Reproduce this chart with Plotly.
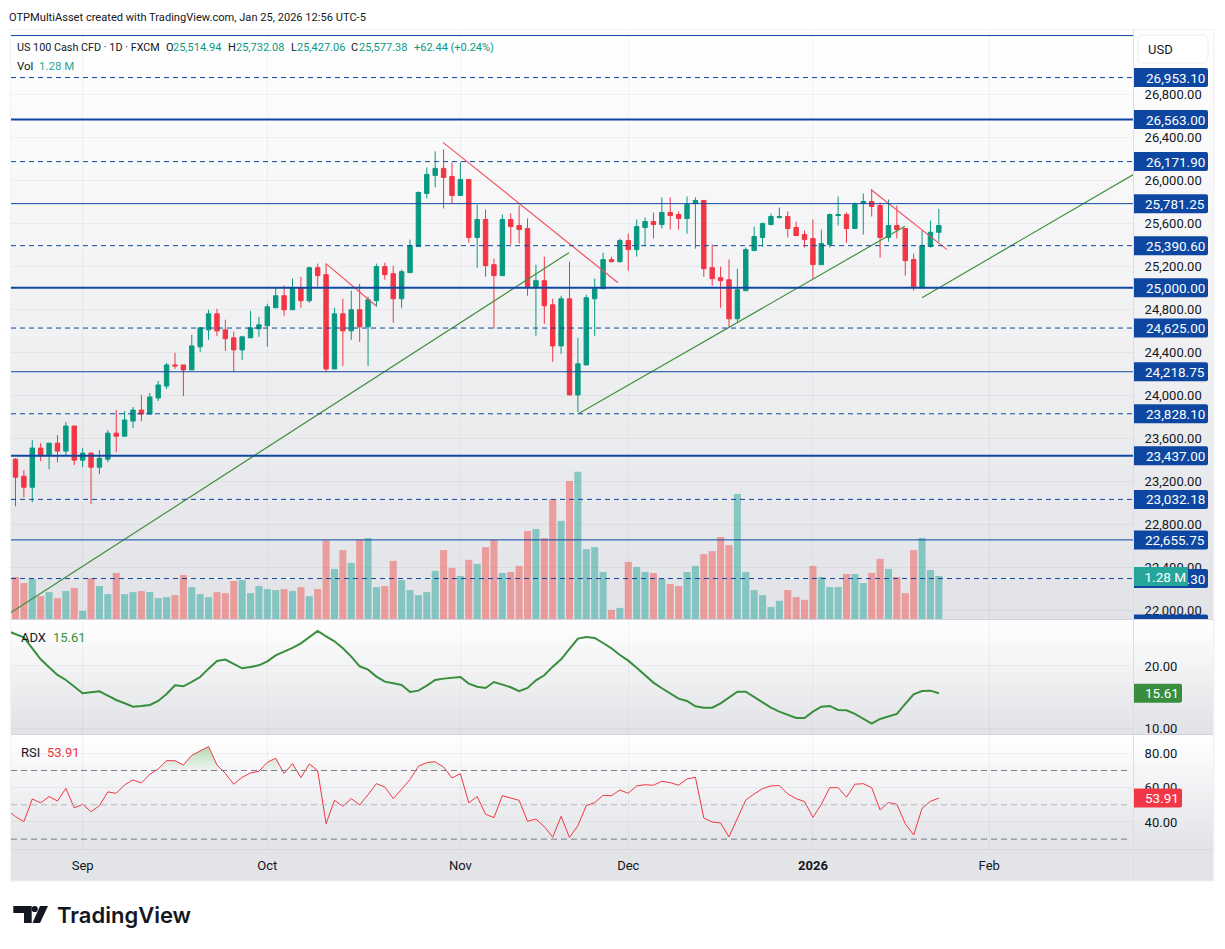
import plotly.graph_objects as go

W, H = 1225, 949

# Daily sessions of US 100 Cash CFD, late August 2025 to 23 January 2026
opens = [23406,23248,23145,23509,23443,23555,23481,23714,23397,23462,23331,23406,23648,23620,23760,23863,23825,23975,24086,24282,
         24282,24236,24450,24608,24757,24608,24534,24422,24534,24618,24646,24813,24925,24795,25000,24879,25186,25121,24245,24757,
         24599,24795,24636,24879,25196,25130,24897,25140,25382,25876,26044,26109,26034,25857,26006,25466,25634,25214,25112,25634,
         25578,25550,25009,25065,24841,24459,24897,24003,24282,24897,24991,25261,25242,25438,25354,25559,25615,25587,25699,25680,
         25643,25783,25811,25186,25093,25074,24711,24972,25345,25466,25587,25652,25662,25559,25494,25457,25214,25401,25671,25680,
         25550,25783,25801,25764,25466,25578,25550,25261,25000,25382,25514.94]
highs = [23415,23304,23583,23555,23555,23630,23751,23714,23509,23471,23490,23676,23863,23853,23891,24003,24021,24133,24301,24394,
         24282,24562,24627,24795,24804,24702,24590,24552,24785,24730,24851,25000,25019,25084,25102,25196,25224,25224,24813,24897,
         24972,25037,24916,25224,25233,25205,25168,25447,25895,26118,26267,26286,26165,26165,26006,25773,25727,25270,25680,25690,
         25764,25643,25214,25289,24897,24925,25242,24534,24935,25084,25326,25289,25457,25503,25634,25652,25699,25839,25839,25708,
         25848,25839,25811,25401,25196,25261,25177,25373,25568,25606,25690,25745,25708,25615,25531,25634,25540,25690,25848,25699,
         25792,25876,25913,25792,25820,25764,25550,25317,25531,25624,25732.08]
lows = [22968,23052,23005,23387,23313,23378,23443,23350,23331,22987,23266,23378,23471,23620,23695,23760,23825,23947,24059,24245,
        23993,24236,24403,24515,24552,24413,24217,24329,24534,24543,24450,24813,24739,24795,24813,24860,25009,24217,24245,24273,
        24515,24497,24273,24823,25074,24674,24813,25140,25382,25829,25932,25736,25783,25857,25419,25186,25102,24618,25112,25401,
        25410,24925,24552,24664,24310,24385,24003,23844,24282,24552,24991,25233,25233,25158,25289,25382,25457,25550,25540,25540,
        25503,25363,25102,25019,24813,24636,24683,24972,25345,25382,25578,25643,25466,25484,25373,25084,25214,25373,25578,25419,
        25550,25494,25662,25279,25428,25457,25112,24972,25000,25373,25427.06]
closes = [23238,23145,23509,23443,23555,23481,23714,23397,23462,23331,23415,23648,23620,23770,23863,23825,23984,24096,24282,24273,
          24236,24459,24627,24757,24599,24525,24422,24543,24627,24655,24823,24925,24795,25000,24879,25186,25112,24245,24757,24599,
          24795,24636,24888,25196,25121,24897,25149,25391,25885,26053,26109,26025,25857,26006,25466,25634,25205,25112,25634,25568,
          25540,25009,25065,24832,24459,24897,24003,24292,24907,24991,25261,25242,25438,25354,25568,25615,25587,25699,25671,25643,
          25773,25811,25177,25084,25065,24711,24981,25354,25475,25596,25662,25662,25550,25484,25447,25214,25410,25680,25680,25550,
          25773,25801,25755,25466,25578,25540,25251,25009,25391,25514.94,25577.38]
volumes_m = [1.25,1.07,1.19,0.68,0.80,0.62,0.83,0.92,0.24,1.22,0.98,0.74,1.37,0.74,0.80,0.83,0.80,0.62,0.65,0.71,
             1.31,0.95,0.74,0.65,0.80,0.77,1.13,1.16,0.77,0.98,0.89,0.86,0.89,0.83,0.95,0.68,0.89,2.34,1.49,2.05,
             1.67,2.35,2.41,0.95,0.98,1.73,1.16,0.86,0.71,0.80,1.43,2.05,1.52,1.28,1.76,1.64,2.14,2.35,1.37,1.40,
             1.58,2.62,2.68,2.41,3.57,2.92,4.11,4.38,2.08,2.14,1.40,0.27,0.33,1.70,1.55,1.40,1.37,1.19,1.04,0.98,
             1.40,1.58,1.93,2.02,2.44,2.20,3.72,1.40,0.86,0.71,0.36,0.54,0.86,0.65,0.57,1.58,1.25,0.95,0.95,1.34,
             1.34,1.07,1.37,1.79,1.49,1.25,0.77,2.05,2.41,1.46,1.28]

# Indicators start one session earlier than the candles, just off the left edge
adx = [25.62,25.08,24.60,22.83,21.07,19.79,18.56,17.75,16.68,15.61,15.77,15.94,15.24,14.54,14.01,13.47,13.58,13.74,14.38,15.51,
       16.90,16.74,17.43,18.23,19.57,20.80,21.02,20.37,19.63,19.84,20.11,20.75,21.71,22.30,22.89,23.64,24.60,25.62,24.76,23.96,
       22.83,21.50,19.95,19.41,18.29,17.49,17.22,16.95,15.83,16.04,16.84,17.75,17.97,18.13,18.23,17.17,16.68,16.47,17.43,17.01,
       16.58,15.94,16.47,17.70,18.50,19.89,21.07,22.73,24.39,24.65,24.49,23.69,22.83,21.76,20.86,19.73,18.45,17.33,16.42,15.56,
       14.76,14.38,13.53,13.31,13.31,14.01,14.92,15.88,15.88,15.03,14.17,13.31,12.67,12.14,11.66,11.66,12.67,13.47,13.58,12.94,
       12.89,12.30,11.50,10.75,11.50,11.92,12.30,13.90,15.45,15.99,16.04,15.61]
rsi = [47.0,43.1,40.2,53.4,51.1,54.8,52.2,59.6,48.2,50.3,46.0,49.5,57.5,56.7,61.6,64.5,62.7,67.8,70.9,75.7,
       75.7,73.2,78.8,81.3,83.9,73.2,68.3,62.0,66.0,68.5,69.5,74.8,77.1,68.2,74.0,65.8,73.8,69.9,39.0,52.6,
       49.1,53.6,49.9,55.9,62.3,60.4,53.6,59.0,64.7,72.4,74.6,75.1,72.0,65.6,68.2,51.1,54.8,44.5,42.5,55.3,
       53.8,52.6,40.4,41.7,37.3,31.1,43.3,30.9,37.9,49.5,51.3,55.5,55.3,58.6,56.7,61.0,61.7,61.4,63.7,62.9,
       61.4,65.1,66.0,42.3,40.0,39.4,31.3,42.1,52.8,56.3,59.4,61.0,61.2,56.3,53.6,51.9,42.7,50.3,60.0,60.0,
       54.4,62.0,62.3,60.0,47.0,51.3,50.3,39.0,32.4,47.9,52.0,53.91]

# Horizontal price levels
level_prices = [27343.75,26953.10,26563.00,26171.90,25781.25,25390.60,25000.00,24625.00,24218.75,
                23828.10,23437.00,23032.18,22655.75,22296.30,21875.00]
level_widths = [1,1,2,1,1,1,2,1,1,1,2,1,1,1,1]
level_dashed = [0,1,0,1,0,1,0,1,0,1,0,1,0,1,0]

# Trend lines as (session, price) pairs
green_trends = [((-0.54,21980),(65.94,25326)), ((67.0,23826),(105.97,25571)), ((107.99,24907),(133.2,26053))]
red_trends = [((50.93,26351),(71.78,25046)), ((36.99,25224),(42.95,24832)), ((101.9,25913),(110.97,25354))]

month_sessions = [8,30,53,73,95,116]
month_labels = ["Sep","Oct","Nov","Dec","<b>2026</b>","Feb"]
price_ticks = list(range(22000,27000,400))

GREEN, RED = "#089981", "#f23645"
BLUE = "#0d47a1"
TEXT = "#131722"
GRID = "rgba(42,46,57,0.055)"
FONT = "Roboto"

def px(x): return x / W
def py(y): return 1 - y / H

sessions = list(range(len(opens)))
fig = go.Figure()

fig.add_trace(go.Bar(
    x=sessions, y=volumes_m, yaxis="y", xaxis="x", width=0.84,
    marker=dict(line_width=0, color=["rgba(38,166,154,0.5)" if c >= o else "rgba(239,83,80,0.5)"
                                     for o, c in zip(opens, closes)])))
fig.add_trace(go.Candlestick(
    x=sessions, open=opens, high=highs, low=lows, close=closes, yaxis="y2", xaxis="x",
    whiskerwidth=0,
    increasing=dict(line=dict(color=GREEN, width=1), fillcolor=GREEN),
    decreasing=dict(line=dict(color=RED, width=1), fillcolor=RED)))

for (a, b) in green_trends:
    fig.add_trace(go.Scatter(x=[a[0], b[0]], y=[a[1], b[1]], yaxis="y2", xaxis="x", mode="lines",
                             line=dict(color="#43903f", width=1.2)))
for (a, b) in red_trends:
    fig.add_trace(go.Scatter(x=[a[0], b[0]], y=[a[1], b[1]], yaxis="y2", xaxis="x", mode="lines",
                             line=dict(color="#f2525f", width=1.2)))

indicator_x = list(range(-1, len(opens)))
fig.add_trace(go.Scatter(x=indicator_x, y=adx, yaxis="y3", xaxis="x", mode="lines",
                         line=dict(color="#388e3c", width=2)))

# Overbought shading: RSI clipped at 70 with the crossings inserted, filled down to the 70 line
fx, fy = [], []
for i, (x, v) in enumerate(zip(indicator_x, rsi)):
    if i and (rsi[i-1] - 70) * (v - 70) < 0:
        fx.append(x - 1 + (70 - rsi[i-1]) / (v - rsi[i-1]))
        fy.append(70)
    fx.append(x)
    fy.append(max(v, 70))
fig.add_trace(go.Scatter(x=fx, y=[70]*len(fx), yaxis="y4", xaxis="x", mode="lines",
                         line=dict(width=0, color="rgba(0,0,0,0)")))
fig.add_trace(go.Scatter(x=fx, y=fy, yaxis="y4", xaxis="x", mode="lines", fill="tonexty",
                         line=dict(width=0, color="rgba(0,0,0,0)"),
                         fillgradient=dict(type="vertical", start=85, stop=70,
                                           colorscale=[[0, "rgba(76,175,80,0.45)"], [1, "rgba(76,175,80,0.03)"]])))
fig.add_trace(go.Scatter(x=indicator_x, y=rsi, yaxis="y4", xaxis="x", mode="lines",
                         line=dict(color="#f23645", width=1)))

shapes = []

def rect(x0, y0, x1, y1, fill, layer="below", line=None):
    shapes.append(dict(type="rect", xref="paper", yref="paper", layer=layer,
                       x0=px(x0), x1=px(x1), y0=py(y0), y1=py(y1), fillcolor=fill,
                       line=line or dict(width=0)))

def hline(y, x0, x1, color, width=1):
    shapes.append(dict(type="line", xref="paper", yref="paper", layer="above",
                       x0=px(x0), x1=px(x1), y0=py(y), y1=py(y), line=dict(color=color, width=width)))

def vline(x, y0, y1, color, width=1):
    shapes.append(dict(type="line", xref="paper", yref="paper", layer="above",
                       x0=px(x), x1=px(x), y0=py(y0), y1=py(y1), line=dict(color=color, width=width)))

def gradient(y0, y1, top, bottom, n):
    for k in range(n):
        t = (k + 0.5) / n
        c = [round(a + (b - a) * t) for a, b in zip(top, bottom)]
        rect(11, y0 + (y1 - y0) * k / n, 1213, y0 + (y1 - y0) * (k + 1) / n + 0.6, "rgb(%d,%d,%d)" % tuple(c))

# Outer frame, pane backgrounds and separators
rect(10, 29, 1214.5, 881.5, "#f1f2f5")
gradient(30, 619, (255, 255, 255), (226, 227, 231), 50)
gradient(620, 734, (255, 255, 255), (225, 226, 230), 24)
gradient(735, 849, (255, 255, 255), (226, 227, 231), 24)
rect(11, 849, 1213, 880.5, "#e3e4e8")
hline(619.5, 11, 1213, "#d1d4dc")
hline(734.5, 11, 1213, "#d1d4dc")
hline(849.5, 11, 1213, "#d8d9de")
vline(1133.5, 30, 880.5, "#dcdee3")

annotations = []

def text(x, y, s, color=TEXT, size=13, family=FONT, **font_extra):
    annotations.append(dict(xref="paper", yref="paper", x=px(x), y=py(y), text=s, showarrow=False,
                            xanchor="left", yanchor="middle", align="left", borderpad=0, borderwidth=0,
                            font=dict(family=family, size=size, color=color, **font_extra)))

def value_tag(axis, value, label, fill, x1=1208, text_right=1204.5):
    # Axis tag with softly rounded right corners, sized in pixels around its value
    r0, r1, x_in = -9.5, 9.5, px(x1 - 2)
    path = (f"M {px(1134)} {r0} L {x_in} {r0} Q {px(x1)} {r0} {px(x1)} {r0 + 2} "
            f"L {px(x1)} {r1 - 2} Q {px(x1)} {r1} {x_in} {r1} L {px(1134)} {r1} Z")
    shapes.append(dict(type="path", xref="paper", yref=axis, yanchor=value, ysizemode="pixel", layer="above",
                       path=path, fillcolor=fill, line=dict(width=0)))
    if label:
        annotations.append(dict(xref="paper", yref=axis, x=px(text_right), y=value, text=label, showarrow=False,
                                xanchor="right", yanchor="middle", borderpad=0, borderwidth=0,
                                font=dict(family=FONT, size=13.5, color="#ffffff")))

# Price levels across the main pane with their axis tags
for price, w, dashed in zip(level_prices, level_widths, level_dashed):
    shapes.append(dict(type="line", xref="paper", yref="y2", layer="above",
                       x0=px(11), x1=px(1133), y0=price, y1=price,
                       line=dict(color=BLUE, width=w, dash="5px,4px" if dashed else "solid")))
for price in level_prices[1:]:
    value_tag("y2", price, f"{price:,.2f}" if price != 21875.00 else "", BLUE)

# RSI bands
for level, color in zip([70, 50, 30], ["#787b86", "#b2b5be", "#787b86"]):
    shapes.append(dict(type="line", xref="paper", yref="y4", layer="above",
                       x0=px(11), x1=px(1127), y0=level, y1=level,
                       line=dict(color=color, width=1, dash="6px,4px")))

# Last volume tag sits over the level tag beneath it, so it carries its own opaque box
annotations.append(dict(xref="paper", yref="paper", x=px(1134), y=py(576.7), text="1.28 M", showarrow=False,
                        xanchor="left", yanchor="middle", align="right", width=50, height=15,
                        bgcolor="#26a69a", borderpad=2, borderwidth=0,
                        font=dict(family=FONT, size=13.5, color="#ffffff")))

# Last ADX and RSI tags
value_tag("y3", adx[-1], f"{adx[-1]:.2f}", "#388e3c", x1=1182, text_right=1178.5)
value_tag("y4", rsi[-1], f"{rsi[-1]:.2f}", "#f23645", x1=1182, text_right=1178.5)

# Currency button
bx0, bx1, by0, by1, br = 1138, 1208, 35, 63, 5
button = (f"M {px(bx0 + br)} {py(by0)} L {px(bx1 - br)} {py(by0)} Q {px(bx1)} {py(by0)} {px(bx1)} {py(by0 + br)} "
          f"L {px(bx1)} {py(by1 - br)} Q {px(bx1)} {py(by1)} {px(bx1 - br)} {py(by1)} "
          f"L {px(bx0 + br)} {py(by1)} Q {px(bx0)} {py(by1)} {px(bx0)} {py(by1 - br)} "
          f"L {px(bx0)} {py(by0 + br)} Q {px(bx0)} {py(by0)} {px(bx0 + br)} {py(by0)} Z")
shapes.append(dict(type="path", xref="paper", yref="paper", layer="above", path=button,
                   fillcolor="#ffffff", line=dict(color="#eceef2", width=1)))
text(1148, 49, "USD")

# Header
text(9, 17, "OTPMultiAsset created with TradingView.com, Jan 25, 2026 12:56 UTC-5", size=11.1)
text(16.5, 47.5, "US 100 Cash CFD · 1D · FXCM", size=10.8)
for lx, letter, vx, val in [(165.5, "O", 173, "25,514.94"), (228, "H", 235.5, "25,732.08"),
                            (290.5, "L", 296.5, "25,427.06"), (351, "C", 358.5, "25,577.38")]:
    text(lx, 47.5, letter, size=11)
    text(vx, 47.5, val, color=GREEN, size=11)
text(413.5, 47.5, "+62.44 (+0.24%)", color=GREEN, size=11)
text(16.5, 66, "Vol", size=11.5)
text(38.5, 66, "1.28 M", color="#26a69a", size=11.5)
text(20.5, 637, "ADX")
text(53, 637, f"{adx[-1]:.2f}", color="#388e3c")
text(20.5, 752, "RSI")
text(46.5, 752, f"{rsi[-1]:.2f}", color="#f23645")

# Brand mark and wordmark
black = "#131722"
def poly(points):
    path = "M " + " L ".join(f"{px(x)} {py(y)}" for x, y in points) + " Z"
    shapes.append(dict(type="path", xref="paper", yref="paper", path=path, fillcolor=black,
                       line=dict(width=0), layer="above"))
poly([(13.3, 906), (31.7, 906), (31.7, 923), (24, 923), (24, 913), (13.3, 913)])
poly([(40, 906), (48, 906), (40, 923), (32.5, 923)])
shapes.append(dict(type="circle", xref="paper", yref="paper", x0=px(31.6), x1=px(37.8), y0=py(905.9), y1=py(912.1),
                   fillcolor=black, line=dict(width=0), layer="above"))
text(56.5, 915, "TradingView", color=black, size=22, family="Inter", weight=600)

axis_common = dict(showline=False, zeroline=False, gridcolor=GRID, gridwidth=1,
                   tickfont=dict(family=FONT, size=13, color=TEXT), ticks="outside", ticklen=8,
                   tickcolor="rgba(0,0,0,0)", side="right", anchor="x", automargin=False)

fig.update_layout(
    width=W, height=H, margin=dict(l=0, r=0, t=0, b=0), autosize=False,
    paper_bgcolor="#ffffff", plot_bgcolor="rgba(0,0,0,0)", showlegend=False,
    bargap=0.15, boxgap=0.25, dragmode=False, hovermode=False,
    shapes=shapes, annotations=annotations,
    xaxis=dict(domain=[px(11), px(1133)], range=[(11 - 15.5) / 8.394, (1133 - 15.5) / 8.394],
               anchor="y4", rangeslider=dict(visible=False), showline=False, zeroline=False,
               gridcolor=GRID, tickmode="array", tickvals=month_sessions, ticktext=month_labels,
               tickfont=dict(family=FONT, size=13, color=TEXT), ticks="outside", ticklen=4,
               tickcolor="rgba(0,0,0,0)"),
    yaxis=dict(domain=[py(619), py(30)], range=[0, 589 / 33.6], visible=False, anchor="x", fixedrange=True),
    yaxis2=dict(domain=[py(619), py(30)], range=[21920.4, 27395.4], overlaying="y",
                tickmode="array", tickvals=price_ticks, ticktext=[f"{t:,.2f}" for t in price_ticks], **axis_common),
    yaxis3=dict(domain=[py(734.5), py(620)], range=[9.0, 27.38], tickmode="array",
                tickvals=[10, 20], ticktext=["10.00", "20.00"], **axis_common),
    yaxis4=dict(domain=[py(849), py(735)], range=[24.25, 90.66], tickmode="array",
                tickvals=[40, 60, 80], ticktext=["40.00", "60.00", "80.00"], **axis_common),
)

fig.write_html("out.html", config=dict(displayModeBar=False, staticPlot=True))
